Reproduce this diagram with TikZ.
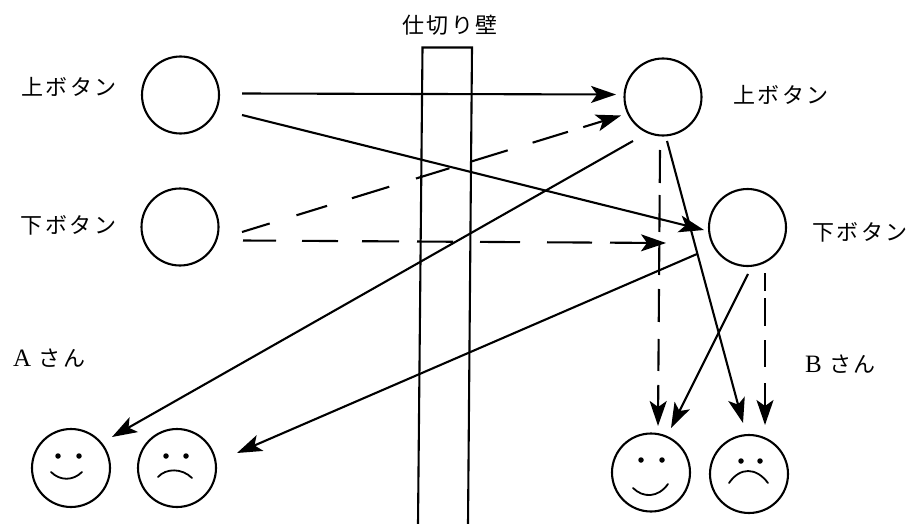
\documentclass[tikz,border=0pt]{standalone}
\usepackage{fontspec}
\setmainfont{Liberation Serif}
\newfontfamily\jp[LetterSpace=11]{Noto Sans CJK JP}
\newfontfamily\latn{Liberation Serif}
\usetikzlibrary{arrows.meta}
\tikzset{
  ln/.style={line width=2.1pt,black},
  btn/.style={circle,draw,line width=2.1pt,minimum size=77pt,inner sep=0pt,outer sep=0pt},
  face/.style={circle,draw,line width=2.1pt,minimum size=78pt,inner sep=0pt,outer sep=0pt},
  eye/.style={circle,fill,minimum size=5.5pt,inner sep=0pt},
  lbl/.style={font=\jp\fontsize{22}{22}\selectfont,inner sep=0pt,black},
  arr/.style={ln,-{Stealth[length=25pt,width=17pt,inset=6pt]}},
  dsA/.style={dash pattern=on 29pt off 28pt on 32pt off 26pt on 39pt off 28pt on 35pt off 23pt on 38pt off 26pt on 37pt off 16pt on 200pt off 1pt},
  dsD/.style={dash pattern=on 33pt off 26pt on 36pt off 24pt on 37pt off 18pt on 36pt off 27pt on 40pt off 27pt on 45pt off 18pt on 200pt off 1pt},
  dsB/.style={dash pattern=on 33pt off 12pt on 37pt off 13pt on 30pt off 14pt on 33pt off 17pt on 32pt off 14pt on 200pt off 1pt},
  dsC/.style={dash pattern=on 18pt off 7pt on 28pt off 14pt on 27pt off 16pt on 200pt off 1pt}
}
\begin{document}
\begin{tikzpicture}[x=1pt,y=-1pt]
\useasboundingbox (0,0) rectangle (907,524);
% buttons
\node[btn] (ul) at (180.5,95) {};
\node[btn] (dl) at (180,227) {};
\node[btn] (ur) at (663,97) {};
\node[btn] (dr) at (747.5,227.5) {};
% faces
\node[face] (fa1) at (71,468) {};
\node[face] (fa2) at (177,468) {};
\node[face] (fb1) at (651,472.5) {};
\node[face] (fb2) at (749,474) {};
\node[eye] (e1) at (58,456) {};
\node[eye] (e2) at (79,456) {};
\node[eye] (e3) at (166,456) {};
\node[eye] (e4) at (186,456) {};
\node[eye] (e5) at (641,460) {};
\node[eye] (e6) at (662,460) {};
\node[eye] (e7) at (741,461) {};
\node[eye] (e8) at (760,461) {};
\draw[ln,line width=1.8pt,line cap=round] (51,472) .. controls (60,481) and (73,481) .. (82,472);
\draw[ln,line width=1.8pt,line cap=round] (158,477) .. controls (166,468) and (182,468) .. (192,478);
\draw[ln,line width=1.8pt,line cap=round] (633,488) .. controls (643,498) and (658,498) .. (668,484);
\draw[ln,line width=1.8pt,line cap=round] (729,483) .. controls (740,467) and (756,467) .. (768,483);
% wall
\coordinate (wa) at (418,524);
\coordinate (wb) at (422.5,47.5);
\coordinate (wc) at (472,47.5);
\coordinate (wd) at (468,524);
\draw[ln,line join=miter] (wa) -- (wb) -- (wc) -- (wd);
% labels
\node[lbl] (t0) at (450,25) {仕切り壁};
\node[lbl] (t1) at (69,87) {上ボタン};
\node[lbl] (t2) at (68.5,225) {下ボタン};
\node[lbl] (t3) at (781,95) {上ボタン};
\node[lbl] (t4) at (860,232) {下ボタン};
\node[lbl,anchor=west] (t5) at (13,358) {{\latn\fontsize{25}{25}\selectfont A} さん};
\node[lbl,anchor=west] (t6) at (805,364) {{\latn\fontsize{25}{25}\selectfont B} さん};
% connector ends
\coordinate (a1) at (242,93.5);   \coordinate (b1) at (616,94.5);
\coordinate (a2) at (242,115);    \coordinate (b2) at (704,230);
\coordinate (a3) at (242,232);    \coordinate (b3) at (621,115.5);
\coordinate (a4) at (243,240.5);  \coordinate (b4) at (666,243);
\coordinate (a5) at (633,141);    \coordinate (b5) at (112,437);
\coordinate (a6) at (697,254);    \coordinate (b6) at (237,453);
\coordinate (a7) at (667,141);    \coordinate (b7) at (743,423);
\coordinate (a8) at (660,150);    \coordinate (b8) at (658,426);
\coordinate (a9) at (748,274);    \coordinate (b9) at (671,428);
\coordinate (a10) at (765,273);   \coordinate (b10) at (765,425);
% connectors
\draw[arr] (a1) -- (b1);
\draw[arr] (a2) -- (b2);
\draw[arr,dsA] (a3) -- (b3);
\draw[arr,dsD] (a4) -- (b4);
\draw[arr] (a5) -- (b5);
\draw[arr] (a6) -- (b6);
\draw[arr] (a7) -- (b7);
\draw[arr,dsB] (a8) -- (b8);
\draw[arr] (a9) -- (b9);
\draw[arr,dsC] (a10) -- (b10);
\end{tikzpicture}
\end{document}
